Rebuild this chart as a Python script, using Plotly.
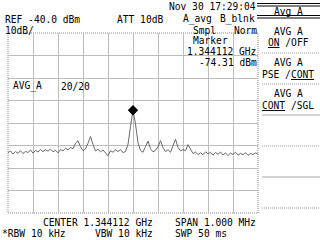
import plotly.graph_objects as go

# ---- data ----
center_mhz = 1344.112
span_mhz = 1.000
ref_dbm = -40.0
db_per_div = 10
n_div_y = 8
trace_dbm = [
    -93.2, -92.4, -93.8, -92.7, -93.5, -92.3, -93.6, -92.6, -93.1, -92.0,
    -93.4, -92.2, -92.9, -91.8, -92.7, -91.9, -92.5, -91.6, -92.8, -92.1,
    -93.3, -91.8, -92.4, -91.2, -91.9, -90.9, -91.4, -89.0, -87.9, -90.6,
    -92.3, -91.5, -89.0, -86.0, -89.5, -92.4, -91.7, -92.8, -92.0, -93.1,
    -94.6, -92.3, -93.0, -91.9, -92.7, -91.8, -93.2, -92.6, -89.5, -81.5,
    -74.31, -80.5, -88.8, -92.2, -93.0, -90.5, -88.0, -91.5, -92.8, -92.2,
    -90.6, -87.8, -90.9, -92.7, -91.9, -93.0, -89.6, -87.2, -90.8, -92.4,
    -91.8, -92.3, -89.6, -91.4, -93.6, -92.9, -94.0, -93.2, -94.1, -92.8,
    -93.7, -93.0, -94.3, -93.1, -93.9, -92.9, -94.2, -93.3, -94.5, -93.4,
    -94.0, -93.0, -94.3, -93.5, -94.1, -93.2, -94.4, -93.6, -94.0, -93.3,
    -93.9,
]
marker_freq_mhz = 1344.112
marker_dbm = -74.31

n = len(trace_dbm)
f0 = center_mhz - span_mhz / 2
freqs = [f0 + span_mhz * i / (n - 1) for i in range(n)]

# ---- layout geometry (pixels) ----
W, H = 320, 240
L, R, T, B = 8, 258, 33, 213

def px(x, y):
    return (x - L) / (R - L), (B - y) / (B - T)

FONT = "DejaVu Sans Mono"
FS = 9.6

fig = go.Figure()
fig.add_trace(go.Scatter(x=freqs, y=trace_dbm, mode="lines",
                         line=dict(color="#6a6a6a", width=1), hoverinfo="skip"))
fig.add_trace(go.Scatter(x=[marker_freq_mhz], y=[marker_dbm], mode="markers",
                         marker=dict(symbol="diamond", size=8, color="black"),
                         hoverinfo="skip"))

annots = []
def txt(s, x, y, anchor="left", size=FS):
    ax, ay = px(x, y)
    annots.append(dict(text=s, x=ax, y=ay, xref="paper", yref="paper",
                       xanchor=anchor, yanchor="middle", showarrow=False,
                       font=dict(family=FONT, size=size, color="black"),
                       borderpad=0))

txt("Nov 30 17:29:04", 257, 6, "right")
txt("REF -40.0 dBm", 4, 19)
txt("ATT 10dB", 116, 19)
txt("A_avg", 182, 19)
txt("B_blnk", 256, 19, "right")
txt("10dB/", 4, 30)
txt("Smpl", 192, 30)
txt("Norm", 258, 30, "right")
txt("Marker", 210, 41, "center")
txt("1.344112 GHz", 257, 51, "right")
txt("-74.31 dBm", 258, 62, "right")
txt("AVG_A", 12, 86)
txt("20/20", 60, 86)
txt("CENTER 1.344112 GHz", 154, 222, "right")
txt("SPAN 1.000 MHz", 174, 222)
txt("*RBW 10 kHz", 1, 233)
txt("VBW 10 kHz", 154, 233, "right")
txt("SWP 50 ms", 174, 233)
# menu
MX = 288
txt("Avg A", MX, 11, "center")
txt("AVG A", MX, 31, "center")
txt("<u>ON</u> /OFF", MX, 42, "center")
txt("AVG A", MX, 62, "center")
txt("PSE /<u>CONT</u>", MX, 74, "center")
txt("AVG A", MX, 93, "center")
txt("<u>CONT</u> /SGL", MX, 105, "center")

shapes = []
def hline(y, x0, x1, color="black", dash="solid", width=1):
    a0, b = px(x0, y)
    a1, _ = px(x1, y)
    shapes.append(dict(type="line", xref="paper", yref="paper", x0=a0, x1=a1,
                       y0=b, y1=b, line=dict(color=color, width=width, dash=dash)))

hline(3.5, 257, 320)
hline(6, 257, 320)
hline(15.5, 257, 320)
hline(18, 257, 320)
for yy, c, d in [(53, "#999999", "1px,1px"), (84, "#999999", "1px,1px"),
                 (115, "#aaaaaa", "solid"), (146, "#999999", "1px,1px"),
                 (177, "#aaaaaa", "solid"), (208, "#999999", "1px,1px")]:
    hline(yy, 262, 320, c, d)

# plot border dotted
shapes.append(dict(type="rect", xref="paper", yref="paper", x0=0, x1=1, y0=0, y1=1,
                   line=dict(color="#888888", width=1, dash="1px,1px"), layer="below"))

fig.update_layout(
    width=W, height=H, autosize=False,
    margin=dict(l=L, r=W - R, t=T, b=H - B, pad=0),
    paper_bgcolor="white", plot_bgcolor="white",
    showlegend=False,
    annotations=annots, shapes=shapes,
    xaxis=dict(range=[f0, f0 + span_mhz], dtick=span_mhz / 10, tick0=f0,
               showticklabels=False, ticks="", showgrid=True,
               gridcolor="#bdbdbd", gridwidth=1, zeroline=False, showline=False),
    yaxis=dict(range=[ref_dbm - db_per_div * n_div_y, ref_dbm], dtick=db_per_div,
               showticklabels=False, ticks="", showgrid=True,
               gridcolor="#bdbdbd", gridwidth=1, zeroline=False, showline=False),
)

fig.write_html("out.html")
